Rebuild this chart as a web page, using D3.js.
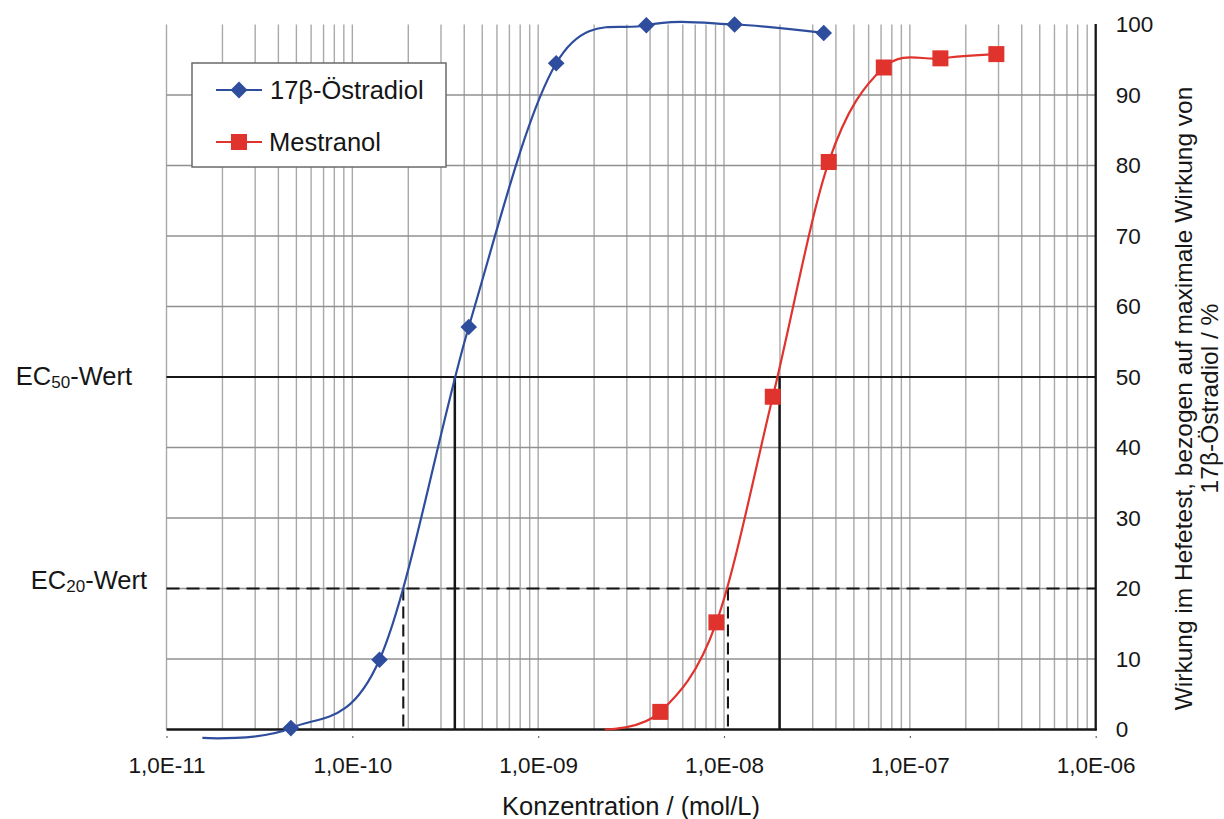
<!DOCTYPE html>
<html>
<head>
<meta charset="utf-8">
<script src="https://cdn.jsdelivr.net/npm/d3@7"></script>
<style>
  html, body { margin: 0; padding: 0; background: #fff; }
  svg { display: block; font-family: "Liberation Sans", Arial, sans-serif; }
</style>
</head>
<body>
<svg id="chart" width="1224" height="819"></svg>
<script>
// ---------- data ----------
const decadeTicks = [1e-11, 1e-10, 1e-9, 1e-8, 1e-7, 1e-6];
const effectTicks = [0, 10, 20, 30, 40, 50, 60, 70, 80, 90, 100];

const estradiolConc   = [4.67e-11, 1.40e-10, 4.23e-10, 1.25e-9, 3.82e-9, 1.14e-8, 3.44e-8];
const estradiolEffect = [0.2, 9.9, 57.1, 94.5, 99.9, 100.0, 98.8];
// start of the smoothed curve (no marker)
const estradiolCurveStartConc = 1.56e-11;
const estradiolCurveStartEffect = -1.2;

const mestranolConc   = [4.54e-9, 9.1e-9, 1.83e-8, 3.66e-8, 7.24e-8, 1.46e-7, 2.92e-7];
const mestranolEffect = [2.5, 15.2, 47.2, 80.5, 93.9, 95.2, 95.8];
const mestranolCurveStartConc = 2.28e-9;
const mestranolCurveStartEffect = 0;

// EC reference values
const ec50Level = 50;
const ec20Level = 20;
const ec50Conc = [3.56e-10, 1.99e-8];
const ec20Conc = [1.88e-10, 1.05e-8];

const seriesNames = ["17β-Östradiol", "Mestranol"];

// ---------- layout ----------
const svg = d3.select("#chart");
const X0 = 166.5, X1 = 1095.7, YB = 729.5, YT = 24.5;
const x = d3.scaleLog().domain([1e-11, 1e-6]).range([X0, X1]);
const y = d3.scaleLinear().domain([0, 100]).range([YB, YT]);

const blue = "#2E4D9D", red = "#E0332D";
const ink = "#161616";

// vertical gridlines (1..9 per decade)
svg.append("g").selectAll("line").data(x.ticks()).join("line")
  .attr("x1", d => x(d)).attr("x2", d => x(d))
  .attr("y1", YT).attr("y2", YB)
  .attr("stroke", "#a9a9a9").attr("stroke-width", 1.4);

// horizontal gridlines
svg.append("g").selectAll("line").data(effectTicks.filter(v => v > 0 && v < 100)).join("line")
  .attr("x1", X0).attr("x2", X1)
  .attr("y1", d => y(d)).attr("y2", d => y(d))
  .attr("stroke", "#909090").attr("stroke-width", 1.4);

// EC lines
const ecG = svg.append("g");
ecG.append("line").attr("x1", X0).attr("x2", X1).attr("y1", y(ec50Level)).attr("y2", y(ec50Level))
  .attr("stroke", ink).attr("stroke-width", 1.8);
ecG.append("line").attr("x1", X0).attr("x2", X1).attr("y1", y(ec20Level)).attr("y2", y(ec20Level))
  .attr("stroke", ink).attr("stroke-width", 1.8).attr("stroke-dasharray", "13,7");
ecG.selectAll(".v50").data(ec50Conc).join("line")
  .attr("x1", d => x(d)).attr("x2", d => x(d)).attr("y1", y(ec50Level)).attr("y2", YB)
  .attr("stroke", ink).attr("stroke-width", 2.5);
ecG.selectAll(".v20").data(ec20Conc).join("line")
  .attr("x1", d => x(d)).attr("x2", d => x(d)).attr("y1", y(ec20Level)).attr("y2", YB)
  .attr("stroke", ink).attr("stroke-width", 2.1).attr("stroke-dasharray", "12,6");

// x axis
const xAxis = d3.axisBottom(x).tickValues(decadeTicks)
  .tickFormat(d => "1,0E-" + String(Math.round(-Math.log10(d))).padStart(2, "0"))
  .tickSize(0).tickPadding(28);
const gx = svg.append("g").attr("transform", `translate(0,${YB})`).call(xAxis);
gx.select(".domain").remove();
gx.selectAll("text").attr("font-size", 22.5).attr("fill", ink).attr("font-family", "Liberation Sans, Arial, sans-serif");
gx.selectAll(".tick").append("line").attr("y1", 6.5).attr("y2", 8.5).attr("stroke", "#666").attr("stroke-width", 1.2);
svg.append("line").attr("x1", X0).attr("x2", X1 + 1).attr("y1", YB).attr("y2", YB)
  .attr("stroke", ink).attr("stroke-width", 2.3);

// right y axis
const yAxis = d3.axisRight(y).tickValues(effectTicks).tickSize(0).tickPadding(20);
const gy = svg.append("g").attr("transform", `translate(${X1},0)`).call(yAxis);
gy.select(".domain").remove();
gy.selectAll("text").attr("font-size", 22.5).attr("fill", ink).attr("font-family", "Liberation Sans, Arial, sans-serif");
svg.append("line").attr("x1", X1).attr("x2", X1).attr("y1", YT - 0.5).attr("y2", YB + 1)
  .attr("stroke", ink).attr("stroke-width", 2.3);

// curves
const line = d3.line().x(d => x(d[0])).y(d => y(d[1])).curve(d3.curveCardinal.tension(0));
const blueCurve = [[estradiolCurveStartConc, estradiolCurveStartEffect]].concat(estradiolConc.map((c, i) => [c, estradiolEffect[i]]));
const redCurve = [[mestranolCurveStartConc, mestranolCurveStartEffect]].concat(mestranolConc.map((c, i) => [c, mestranolEffect[i]]));
svg.append("path").attr("d", line(blueCurve)).attr("fill", "none").attr("stroke", blue).attr("stroke-width", 2.2);
svg.append("path").attr("d", line(redCurve)).attr("fill", "none").attr("stroke", red).attr("stroke-width", 2.2);

// markers
const diamond = (cx, cy, r) => `M${cx},${cy - r}L${cx + r},${cy}L${cx},${cy + r}L${cx - r},${cy}Z`;
svg.append("g").selectAll("path").data(estradiolConc).join("path")
  .attr("d", (d, i) => diamond(x(d), y(estradiolEffect[i]), 8.3)).attr("fill", blue);
svg.append("g").selectAll("rect").data(mestranolConc).join("rect")
  .attr("x", d => x(d) - 8).attr("y", (d, i) => y(mestranolEffect[i]) - 8)
  .attr("width", 16).attr("height", 16).attr("fill", red);

// legend
const lg = svg.append("g");
lg.append("rect").attr("x", 192).attr("y", 63).attr("width", 254).attr("height", 104)
  .attr("fill", "#fff").attr("stroke", "#6a6a6a").attr("stroke-width", 1.5);
lg.append("line").attr("x1", 216).attr("x2", 262).attr("y1", 90).attr("y2", 90).attr("stroke", blue).attr("stroke-width", 2.2);
lg.append("path").attr("d", diamond(239, 90, 8.5)).attr("fill", blue);
lg.append("text").attr("x", 270).attr("y", 99).attr("font-size", 25.5).attr("fill", ink).text(seriesNames[0]);
lg.append("line").attr("x1", 216).attr("x2", 262).attr("y1", 142).attr("y2", 142).attr("stroke", red).attr("stroke-width", 2.2);
lg.append("rect").attr("x", 231).attr("y", 134).attr("width", 16).attr("height", 16).attr("fill", red);
lg.append("text").attr("x", 269).attr("y", 151).attr("font-size", 25.5).attr("fill", ink).text(seriesNames[1]);

// EC labels
function ecLabel(xr, yb, sub) {
  const t = svg.append("text").attr("x", xr).attr("y", yb).attr("text-anchor", "end")
    .attr("font-size", 25.5).attr("fill", ink);
  t.append("tspan").text("EC");
  t.append("tspan").attr("font-size", 17).attr("dy", 3).text(sub);
  t.append("tspan").attr("dy", -3).text("-Wert");
}
ecLabel(132, 385, "50");
ecLabel(147, 589, "20");

// axis titles
svg.append("text").attr("x", 631).attr("y", 815).attr("text-anchor", "middle")
  .attr("font-size", 25.5).attr("fill", ink).text("Konzentration / (mol/L)");
const rt = svg.append("g").attr("transform", "translate(1192,398.5) rotate(-90)");
rt.append("text").attr("x", 0).attr("y", 0).attr("text-anchor", "middle").attr("font-size", 24.5)
  .attr("fill", ink).text("Wirkung im Hefetest, bezogen auf maximale Wirkung von");
rt.append("text").attr("x", 0).attr("y", 26).attr("text-anchor", "middle").attr("font-size", 24.5)
  .attr("fill", ink).text("17β-Östradiol / %");
</script>
</body>
</html>
